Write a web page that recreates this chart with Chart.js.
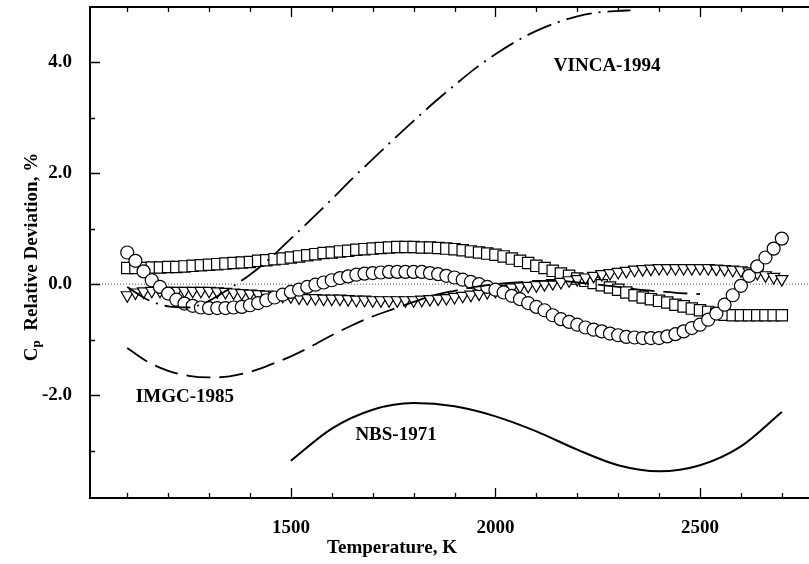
<!DOCTYPE html>
<html>
<head>
<meta charset="utf-8">
<script src="https://cdn.jsdelivr.net/npm/chart.js@4/dist/chart.umd.min.js"></script>
<style>
  html, body { margin: 0; padding: 0; background: #fff; overflow: hidden; }
</style>
</head>
<body>
<canvas id="graficoCp" width="809" height="564"></canvas>
<script>
// temperaturas dos pontos medidos (K)
const temps = [
  1100, 1120, 1140, 1160, 1180, 1200, 1220, 1240, 1260, 1280,
  1300, 1320, 1340, 1360, 1380, 1400, 1420, 1440, 1460, 1480,
  1500, 1520, 1540, 1560, 1580, 1600, 1620, 1640, 1660, 1680,
  1700, 1720, 1740, 1760, 1780, 1800, 1820, 1840, 1860, 1880,
  1900, 1920, 1940, 1960, 1980, 2000, 2020, 2040, 2060, 2080,
  2100, 2120, 2140, 2160, 2180, 2200, 2220, 2240, 2260, 2280,
  2300, 2320, 2340, 2360, 2380, 2400, 2420, 2440, 2460, 2480,
  2500, 2520, 2540, 2560, 2580, 2600, 2620, 2640, 2660, 2680,
  2700
];

// desvios relativos (%) - quadrados
const desvioQuadrados = [
  0.29, 0.29, 0.29, 0.30, 0.30, 0.31, 0.31, 0.32, 0.33, 0.34,
  0.35, 0.36, 0.37, 0.38, 0.39, 0.40, 0.42, 0.43, 0.45, 0.46,
  0.48, 0.50, 0.52, 0.54, 0.56, 0.57, 0.59, 0.60, 0.62, 0.63,
  0.64, 0.65, 0.66, 0.67, 0.67, 0.67, 0.66, 0.66, 0.65, 0.64,
  0.63, 0.61, 0.59, 0.57, 0.55, 0.53, 0.50, 0.46, 0.42, 0.38,
  0.33, 0.29, 0.24, 0.19, 0.15, 0.10, 0.06, 0.02, -0.02, -0.06,
  -0.10, -0.15, -0.20, -0.24, -0.27, -0.30, -0.33, -0.37, -0.40, -0.44,
  -0.47, -0.50, -0.53, -0.55, -0.56, -0.56, -0.56, -0.56, -0.56, -0.56,
  -0.56
];

// circulos
const desvioCirculos = [
  0.57, 0.42, 0.23, 0.07, -0.05, -0.17, -0.28, -0.35, -0.39, -0.42,
  -0.43, -0.43, -0.43, -0.42, -0.41, -0.38, -0.34, -0.29, -0.24, -0.19,
  -0.14, -0.10, -0.05, -0.01, 0.03, 0.07, 0.11, 0.14, 0.17, 0.19,
  0.20, 0.21, 0.22, 0.22, 0.22, 0.22, 0.22, 0.20, 0.18, 0.15,
  0.12, 0.08, 0.04, 0.00, -0.05, -0.10, -0.15, -0.21, -0.27, -0.34,
  -0.41, -0.47, -0.56, -0.63, -0.68, -0.73, -0.78, -0.82, -0.85, -0.89,
  -0.92, -0.95, -0.96, -0.97, -0.97, -0.97, -0.94, -0.90, -0.85, -0.79,
  -0.73, -0.64, -0.53, -0.37, -0.20, -0.03, 0.15, 0.32, 0.48, 0.64,
  0.82
];

// triangulos
const desvioTriangulos = [
  -0.20, -0.15, -0.13, -0.12, -0.12, -0.12, -0.12, -0.12, -0.12, -0.12,
  -0.12, -0.13, -0.14, -0.15, -0.16, -0.17, -0.18, -0.19, -0.20, -0.21,
  -0.22, -0.24, -0.25, -0.25, -0.26, -0.26, -0.26, -0.27, -0.28, -0.28,
  -0.29, -0.29, -0.29, -0.29, -0.29, -0.29, -0.28, -0.27, -0.26, -0.25,
  -0.23, -0.21, -0.19, -0.17, -0.14, -0.12, -0.09, -0.06, -0.04, -0.03,
  -0.02, 0.00, 0.02, 0.04, 0.07, 0.09, 0.12, 0.15, 0.18, 0.20,
  0.22, 0.24, 0.26, 0.27, 0.28, 0.29, 0.29, 0.29, 0.29, 0.29,
  0.29, 0.29, 0.28, 0.27, 0.26, 0.25, 0.23, 0.20, 0.16, 0.13,
  0.09
];

// curvas de referencia
const vincaT = [1100, 1150, 1200, 1250, 1300, 1350, 1400, 1450, 1500, 1550, 1600, 1650, 1700,
  1750, 1800, 1850, 1900, 1950, 2000, 2050, 2100, 2150, 2200, 2250, 2300, 2330];
const vincaDev = [-0.05, -0.28, -0.40, -0.42, -0.30, -0.08, 0.17, 0.47, 0.82, 1.17, 1.53, 1.90, 2.25,
  2.60, 2.94, 3.27, 3.58, 3.88, 4.14, 4.37, 4.56, 4.71, 4.82, 4.89, 4.92, 4.93];

const imgcT = [1100, 1150, 1200, 1250, 1300, 1350, 1400, 1450, 1500, 1550, 1600, 1650, 1700, 1750, 1800,
  1850, 1900, 1950, 2000, 2050, 2100, 2150, 2200, 2250, 2300, 2350, 2400, 2450, 2500];
const imgcDev = [-1.15, -1.40, -1.56, -1.65, -1.68, -1.66, -1.58, -1.45, -1.30, -1.12, -0.92, -0.74, -0.58, -0.45, -0.32,
  -0.20, -0.12, -0.05, 0.00, 0.03, 0.06, 0.06, 0.03, -0.01, -0.05, -0.10, -0.13, -0.16, -0.18];

const nbsT = [1500, 1600, 1700, 1800, 1900, 2000, 2100, 2200, 2300, 2400, 2500, 2600, 2700];
const nbsDev = [-3.18, -2.60, -2.26, -2.14, -2.20, -2.38, -2.65, -2.98, -3.26, -3.37, -3.26, -2.92, -2.30];

// eixos
const xMin = 1009, xMax = 2764;
const yMin = -3.85, yMax = 4.99;
const xLabels = [1500, 2000, 2500];
const yLabels = [-2, 0, 2, 4];
const xMarcas = [1100, 1200, 1300, 1400, 1500, 1600, 1700, 1800, 1900, 2000, 2100, 2200, 2300, 2400, 2500, 2600, 2700];
const yMarcas = [-3, -2, -1, 0, 1, 2, 3, 4];

const rotulos = [
  { text: "VINCA-1994", t: 2273, v: 3.93 },
  { text: "IMGC-1985", t: 1241, v: -2.04 },
  { text: "NBS-1971", t: 1757, v: -2.72 }
];

const serif = '"Liberation Serif", "Times New Roman", serif';

function pares(xs, ys) {
  return xs.map(function (t, i) { return { x: t, y: ys[i] }; });
}

const marcasEixos = {
  id: "marcasEixos",
  afterDraw: function (chart) {
    var ctx = chart.ctx, a = chart.chartArea, x = chart.scales.x, y = chart.scales.y;
    ctx.save();
    ctx.strokeStyle = "#000";
    ctx.lineWidth = 1.3;
    ctx.beginPath();
    xMarcas.forEach(function (t) {
      var px = Math.round(x.getPixelForValue(t)) + 0.5;
      var len = t % 500 === 0 ? 10 : 5;
      ctx.moveTo(px, a.bottom); ctx.lineTo(px, a.bottom - len);
      ctx.moveTo(px, a.top); ctx.lineTo(px, a.top + len);
    });
    yMarcas.forEach(function (v) {
      var py = Math.round(y.getPixelForValue(v)) + 0.5;
      var len = v % 2 === 0 ? 10 : 5;
      ctx.moveTo(a.left, py); ctx.lineTo(a.left + len, py);
    });
    ctx.stroke();
    // borda de cima (a da direita fica fora do recorte)
    ctx.lineWidth = 2;
    ctx.beginPath();
    ctx.moveTo(a.left, a.top); ctx.lineTo(a.right + 1, a.top);
    ctx.stroke();

    ctx.fillStyle = "#000";
    ctx.font = "bold 19px " + serif;
    ctx.textAlign = "center";
    ctx.textBaseline = "middle";
    rotulos.forEach(function (r) {
      ctx.fillText(r.text, x.getPixelForValue(r.t), y.getPixelForValue(r.v));
    });
    ctx.fillText("Temperature, K", 392, 548);

    // titulo do eixo y com subscrito
    ctx.translate(32, 257);
    ctx.rotate(-Math.PI / 2);
    ctx.textAlign = "left";
    var fBig = "bold 19px " + serif, fSub = "bold 13px " + serif;
    var resto = "  Relative Deviation, %";
    ctx.font = fBig;
    var wC = ctx.measureText("C").width, wR = ctx.measureText(resto).width;
    ctx.font = fSub;
    var wP = ctx.measureText("p").width;
    var x0 = -(wC + wP + wR) / 2;
    ctx.font = fBig;
    ctx.fillText("C", x0, 0);
    ctx.font = fSub;
    ctx.fillText("p", x0 + wC, 5);
    ctx.font = fBig;
    ctx.fillText(resto, x0 + wC + wP, 0);
    ctx.restore();
  }
};

new Chart(document.getElementById("graficoCp"), {
  type: "line",
  data: {
    datasets: [
      {
        label: "VINCA-1994",
        data: pares(vincaT, vincaDev),
        borderColor: "#000",
        borderWidth: 1.8,
        borderDash: [26, 7, 2, 7],
        pointRadius: 0,
        cubicInterpolationMode: "monotone",
        order: 0
      },
      {
        label: "IMGC-1985",
        data: pares(imgcT, imgcDev),
        borderColor: "#000",
        borderWidth: 1.8,
        borderDash: [24, 9],
        pointRadius: 0,
        cubicInterpolationMode: "monotone",
        order: 0
      },
      {
        label: "NBS-1971",
        data: pares(nbsT, nbsDev),
        borderColor: "#000",
        borderWidth: 2,
        pointRadius: 0,
        cubicInterpolationMode: "monotone",
        order: 0
      },
      {
        label: "zero",
        data: [{ x: xMin, y: 0 }, { x: xMax, y: 0 }],
        borderColor: "#555",
        borderWidth: 1,
        borderDash: [1, 2],
        pointRadius: 0,
        order: 5
      },
      {
        label: "circulos",
        data: pares(temps, desvioCirculos),
        showLine: false,
        pointStyle: "circle",
        pointRadius: 6.5,
        pointBackgroundColor: "#fff",
        pointBorderColor: "#000",
        pointBorderWidth: 1.2,
        order: 1
      },
      {
        label: "triangulos",
        data: pares(temps, desvioTriangulos),
        showLine: false,
        pointStyle: "triangle",
        pointRotation: 180,
        pointRadius: 7,
        pointBackgroundColor: "#fff",
        pointBorderColor: "#000",
        pointBorderWidth: 1.2,
        order: 2
      },
      {
        label: "quadrados",
        data: pares(temps, desvioQuadrados),
        showLine: false,
        pointStyle: "rect",
        pointRadius: 8,
        pointBackgroundColor: "#fff",
        pointBorderColor: "#000",
        pointBorderWidth: 1.2,
        order: 3
      }
    ]
  },
  options: {
    responsive: false,
    animation: false,
    devicePixelRatio: 1,
    layout: { autoPadding: false, padding: { left: 0, top: 7, right: 1, bottom: 0 } },
    plugins: { legend: { display: false }, tooltip: { enabled: false } },
    scales: {
      x: {
        type: "linear",
        min: xMin,
        max: xMax,
        grid: { display: false },
        border: { display: true, color: "#000", width: 2 },
        afterBuildTicks: function (s) { s.ticks = xLabels.map(function (v) { return { value: v }; }); },
        afterFit: function (s) { s.height = 66; s.paddingLeft = 0; s.paddingRight = 0; },
        ticks: {
          color: "#000",
          padding: 11,
          maxRotation: 0,
          font: { family: serif, size: 19, weight: "bold" },
          callback: function (v) { return String(v); }
        }
      },
      y: {
        type: "linear",
        min: yMin,
        max: yMax,
        grid: { display: false },
        border: { display: true, color: "#000", width: 2 },
        afterBuildTicks: function (s) { s.ticks = yLabels.map(function (v) { return { value: v }; }); },
        afterFit: function (s) { s.width = 90; s.paddingTop = 0; s.paddingBottom = 0; },
        ticks: {
          color: "#000",
          padding: 10,
          font: { family: serif, size: 19, weight: "bold" },
          callback: function (v) { return Number(v).toFixed(1); }
        }
      }
    }
  },
  plugins: [marcasEixos]
});
</script>
</body>
</html>
